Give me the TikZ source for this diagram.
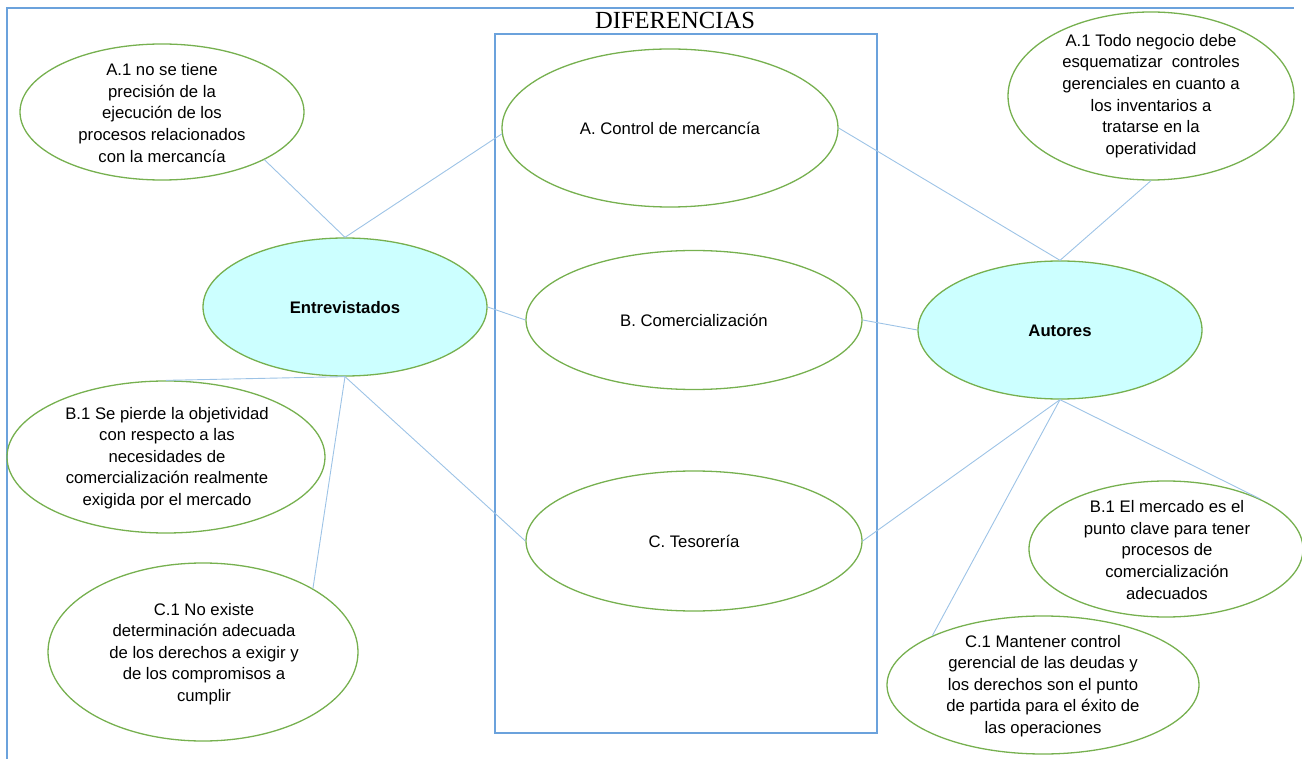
\documentclass[tikz,border=0pt]{standalone}
\usepackage{fontspec}
\setmainfont{Liberation Sans}
\newfontfamily\titlefont{Liberation Serif}
\usetikzlibrary{shapes.geometric}
\definecolor{eg}{HTML}{76B04F}
\definecolor{cl}{HTML}{9DC3E6}
\definecolor{fr}{HTML}{6BA2DC}
\definecolor{cy}{HTML}{CCFFFF}
\begin{document}
\begin{tikzpicture}[x=1pt,y=-1pt,
  ell/.style={ellipse,draw=eg,line width=1.3pt,inner sep=0pt},
  hub/.style={ell,fill=cy},
  txt/.style={align=center,font=\fontsize{16.7}{21.6}\selectfont,inner sep=0pt},
  conn/.style={draw=cl,line width=0.9pt}]
\useasboundingbox (0,0) rectangle (1302,759);
% frame
\coordinate (fbl) at (7,759);
\coordinate (ftl) at (7,8);
\coordinate (ftr) at (1294,8);
\draw[fr,line width=1.3pt] (fbl) -- (ftl) -- (ftr);
\node[font=\titlefont\fontsize{24.6}{28}\selectfont,anchor=base,inner sep=0pt] (title) at (675,29) {DIFERENCIAS};
\node[draw=fr,line width=1.3pt,minimum width=382pt,minimum height=699pt,inner sep=0pt] (box) at (686,383.5) {};
% ellipses
\node[ell,minimum width=284pt,minimum height=136pt] (a1l) at (162,112) {};
\node[ell,minimum width=336pt,minimum height=158pt] (actrl) at (670,128) {};
\node[ell,minimum width=286pt,minimum height=168pt] (a1r) at (1151,96) {};
\node[hub,minimum width=284pt,minimum height=138pt] (ent) at (345,307) {};
\node[ell,minimum width=336pt,minimum height=139pt] (bcom) at (694,320) {};
\node[hub,minimum width=284pt,minimum height=138pt] (aut) at (1060,330) {};
\node[ell,minimum width=336pt,minimum height=140pt] (ctes) at (694,541) {};
\node[ell,minimum width=318pt,minimum height=152pt] (b1l) at (166,457) {};
\node[ell,minimum width=310pt,minimum height=178pt] (c1l) at (203,652) {};
\node[ell,minimum width=274pt,minimum height=136pt] (b1r) at (1166,549) {};
\node[ell,minimum width=312pt,minimum height=138pt] (c1r) at (1043,685) {};
% texts
\node[txt] (ta1l) at (162,113) {A.1 no se tiene\\precisión de la\\ejecución de los\\procesos relacionados\\con la mercancía};
\node[txt] (tactrl) at (670,128) {A. Control de mercancía};
\node[txt] (ta1r) at (1151,96) {A.1 Todo negocio debe\\esquematizar\ \ controles\\gerenciales en cuanto a\\los inventarios a\\tratarse en la\\operatividad};
\node[txt,font=\fontsize{16.7}{21.6}\selectfont\bfseries] (tent) at (345,308) {Entrevistados};
\node[txt] (tbcom) at (694,320) {B. Comercialización};
\node[txt,font=\fontsize{16.7}{21.6}\selectfont\bfseries] (taut) at (1060,331) {Autores};
\node[txt] (tctes) at (694,541) {C. Tesorería};
\node[txt] (tb1l) at (167,458) {B.1 Se pierde la objetividad\\con respecto a las\\necesidades de\\comercialización realmente\\exigida por el mercado};
\node[txt] (tc1l) at (204,654) {C.1 No existe\\determinación adecuada\\de los derechos a exigir y\\de los compromisos a\\cumplir};
\node[txt] (tb1r) at (1167,550) {B.1 El mercado es el\\punto clave para tener\\procesos de\\comercialización\\adecuados};
\node[txt] (tc1r) at (1043,686) {C.1 Mantener control\\gerencial de las deudas y\\los derechos son el punto\\de partida para el éxito de\\las operaciones};
% connectors
\draw[conn] (ent.north) -- (a1l.-25);
\draw[conn] (ent.north) -- (actrl.182);
\draw[conn] (ent.east) -- (bcom.west);
\draw[conn] (ent.south) -- (b1l.north);
\draw[conn] (ent.south) -- (c1l.30);
\draw[conn] (ent.south) -- (ctes.west);
\draw[conn] (actrl.east) -- (aut.north);
\draw[conn] (a1r.south) -- (aut.north);
\draw[conn] (bcom.east) -- (aut.west);
\draw[conn] (aut.south) -- (ctes.east);
\draw[conn] (aut.south) -- (c1r.156);
\draw[conn] (aut.south) -- (b1r.28);
\end{tikzpicture}
\end{document}
